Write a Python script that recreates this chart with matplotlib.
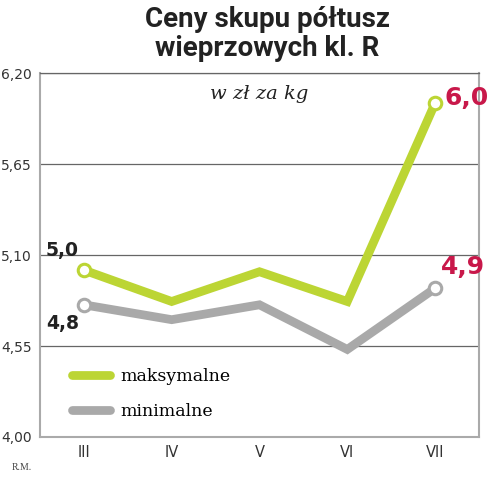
import matplotlib
matplotlib.use("Agg")
import matplotlib.pyplot as plt
from matplotlib.lines import Line2D

categories = ["III", "IV", "V", "VI", "VII"]
maks = [5.01, 4.82, 5.00, 4.82, 6.02]
mini = [4.80, 4.71, 4.80, 4.53, 4.90]
yticks = [4.00, 4.55, 5.10, 5.65, 6.20]
ytick_labels = ["4,00", "4,55", "5,10", "5,65", "6,20"]

green = "#bcd534"
gray = "#a9a9a9"
red = "#c8184a"

fig = plt.figure(figsize=(4.93, 4.80), dpi=100)
ax = fig.add_axes([0.0811, 0.0896, 0.8905, 0.7573])
x = list(range(len(categories)))

ax.plot(x, mini, color=gray, lw=6.3, solid_joinstyle="miter", zorder=3)
ax.plot(x, maks, color=green, lw=6.3, solid_joinstyle="miter", zorder=4)
for series, col in ((mini, gray), (maks, green)):
    for i in (0, len(x) - 1):
        ax.plot(x[i], series[i], marker="o", ms=9, mfc="white", mec=col, mew=2.2, zorder=5)

ax.set_xlim(-0.5, 4.5)
ax.set_ylim(4.0, 6.2)
ax.set_yticks(yticks)
ax.set_yticklabels(ytick_labels, fontsize=10, color="#333333")
ax.set_xticks(x)
ax.set_xticklabels(categories, fontsize=10.5, color="#333333")
ax.tick_params(length=0, pad=6)
ax.grid(axis="y", color="#666666", lw=0.9, zorder=0)
ax.set_axisbelow(True)
for s in ("left", "bottom", "right"):
    ax.spines[s].set_color("#aaaaaa")
    ax.spines[s].set_linewidth(1.5)
ax.spines["top"].set_color("#666666")
ax.spines["top"].set_linewidth(0.9)

# value labels
lab = dict(textcoords="offset points", fontweight="bold", family="DejaVu Sans",
           va="baseline", ha="left")
ax.annotate("5,0", (x[0], maks[0]), xytext=(-27.5, 10), fontsize=13.5, color="#222222", **lab)
ax.annotate("4,8", (x[0], mini[0]), xytext=(-27.5, -17.5), fontsize=13.5, color="#222222", **lab)
ax.annotate("6,0", (x[4], maks[4]), xytext=(6.5, -1.5), fontsize=18, color=red, **lab)
ax.annotate("4,9", (x[4], mini[4]), xytext=(4.5, 10), fontsize=18, color=red, **lab)

# legend
handles = [Line2D([], [], color=green, lw=6.3, solid_capstyle="round"),
           Line2D([], [], color=gray, lw=6.3, solid_capstyle="round")]
ax.legend(handles, ["maksymalne", "minimalne"], loc="upper left", bbox_to_anchor=(0.056, 0.21),
          frameon=False, prop={"family": "DejaVu Serif", "size": 12.5},
          handlelength=2.2, labelspacing=1.05, handletextpad=0.6, borderpad=0.4,
          borderaxespad=0)

ax.text(0.5, 0.944, "w zł za kg", transform=ax.transAxes, ha="center", va="center",
        fontsize=14, style="italic", family="DejaVu Serif", color="#222222")

fig.text(0.542, 0.960, "Ceny skupu półtusz", ha="center", va="center",
         fontsize=20, fontweight="bold", family="Roboto", color="#222222")
fig.text(0.542, 0.900, "wieprzowych kl. R", ha="center", va="center",
         fontsize=20, fontweight="bold", family="Roboto", color="#222222")
fig.text(0.024, 0.027, "R.M.", ha="left", va="center", fontsize=7,
         family="Liberation Serif", color="#444444")

fig.savefig("out.png", dpi=100, facecolor="white")
